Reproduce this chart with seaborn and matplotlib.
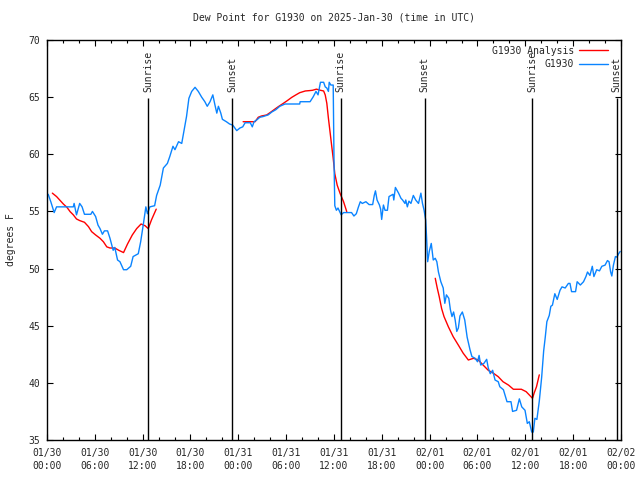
import pandas as pd
import numpy as np
import matplotlib
matplotlib.use("Agg")
import matplotlib.pyplot as plt
import matplotlib.dates as mdates
import seaborn as sns

START = pd.Timestamp("2025-01-30 00:00")

# observed dew point (hours since start, deg F)
obs_hours = [
    0.15, 0.5, 0.9, 1.2, 2.0, 3.3, 3.4, 3.7, 4.1, 4.4, 4.7, 5.5, 5.7, 6.1, 6.4,
    6.65, 6.95, 7.2, 7.6, 7.9, 8.3, 8.5, 8.85, 9.15, 9.6, 10.0, 10.5, 10.8,
    11.45, 11.75, 12.1, 12.4, 12.6, 12.9, 13.5, 13.75, 14.2, 14.6, 15.1, 15.4,
    15.8, 16.05, 16.5, 16.9, 17.2, 17.5, 17.8, 18.15, 18.57, 18.98, 19.4, 19.8,
    20.1, 20.45, 20.8, 21.07, 21.3, 21.5, 21.8, 22.0, 22.5, 22.9, 23.3, 23.8,
    24.2, 24.55, 24.85, 25.5, 25.75, 25.97, 26.3, 26.7, 27.1, 27.75, 28.2, 28.7,
    29.2, 29.85, 30.5, 31.7, 31.75, 33.0, 33.4, 33.74, 34.0, 34.3, 34.7, 34.9,
    35.1, 35.3, 35.4, 35.6, 35.9, 36.0, 36.1, 36.3, 36.5, 36.9, 37.2, 37.8,
    38.2, 38.5, 38.8, 39.05, 39.3, 39.55, 40.0, 40.4, 40.85, 41.05, 41.2, 41.4,
    41.7, 41.85, 41.98, 42.2, 42.4, 42.7, 42.9, 43.4, 43.5, 43.7, 44.1, 44.4,
    44.6, 44.9, 45.0, 45.2, 45.4, 45.65, 45.95, 46.25, 46.6, 46.9, 47.1, 47.3,
    47.5, 47.6, 47.75, 47.95, 48.2, 48.45, 48.7, 48.9, 49.1, 49.4, 49.7, 49.9,
    50.1, 50.4, 50.6, 50.8, 51.0, 51.2, 51.4, 51.6, 51.8, 52.1, 52.4, 52.7,
    53.06, 53.3, 53.7, 54.0, 54.2, 54.4, 54.8, 55.15, 55.35, 55.6, 55.9, 56.2,
    56.6, 56.8, 57.25, 57.7, 58.2, 58.4, 58.9, 59.25, 59.55, 59.96, 60.25, 60.5,
    60.8, 61.0, 61.2, 61.45, 61.75, 62.05, 62.3, 62.5, 62.7, 63.0, 63.2, 63.4,
    63.7, 64.0, 64.35, 64.6, 65.0, 65.4, 65.6, 65.8, 66.3, 66.5, 66.9, 67.3,
    67.6, 67.8, 68.1, 68.4, 68.6, 68.95, 69.3, 69.6, 70.0, 70.3, 70.5, 70.7,
    70.85, 71.05, 71.3, 71.5, 71.7, 71.9,
]
obs_dewpt = [
    56.5, 55.8, 54.9, 55.4, 55.4, 55.4, 55.7, 54.7, 55.7, 55.4, 54.75, 54.75, 55.0, 54.55, 53.8,
    53.5, 53.0, 53.3, 53.3, 52.65, 51.6, 51.85, 50.75, 50.6, 49.9, 49.9, 50.2, 51.05,
    51.3, 52.35, 53.95, 55.4, 54.8, 55.4, 55.5, 56.4, 57.3, 58.8, 59.2, 59.8,
    60.7, 60.4, 61.1, 60.95, 62.1, 63.3, 64.9, 65.5, 65.86, 65.5, 65.0, 64.6,
    64.2, 64.6, 65.2, 64.3, 63.6, 64.2, 63.6, 63.06, 62.85, 62.65, 62.55, 62.07,
    62.3, 62.4, 62.76, 62.76, 62.4, 62.85, 63.0, 63.24, 63.3, 63.45, 63.7, 63.9,
    64.2, 64.4, 64.4, 64.4, 64.6, 64.6, 65.04, 65.5, 65.2, 66.3, 66.3, 65.9,
    65.8, 65.5, 66.3, 66.06, 66.06, 59.5, 55.5, 55.1, 55.3, 54.7, 54.9, 54.9,
    54.9, 54.6, 54.8, 55.36, 55.85, 55.7, 55.85, 55.6, 55.6, 56.4, 56.8, 56.0,
    55.56, 55.2, 54.3, 55.56, 55.1, 55.1, 56.3, 56.5, 56.0, 57.1, 56.6, 56.15,
    56.0, 55.7, 56.0, 55.4, 55.9, 55.7, 56.4, 56.0, 55.7, 56.6, 55.7, 55.1,
    54.25, 52.9, 50.6, 51.5, 52.2, 50.75, 50.9, 50.6, 49.7, 48.85, 48.3, 46.96,
    47.7, 47.4, 46.4, 45.8, 46.2, 45.5, 44.5, 44.8, 45.85, 46.2, 45.5, 44.0,
    42.9, 42.3, 42.15, 41.85, 42.4, 41.56, 41.7, 42.06, 41.3, 40.8, 41.1, 40.25,
    40.1, 39.66, 39.4, 38.35, 38.35, 37.5, 37.6, 38.6, 37.9, 37.6, 36.45, 36.6,
    35.7, 35.7, 36.9, 36.8, 38.4, 40.5, 42.8, 44.0, 45.35, 45.9, 46.7, 46.8,
    47.8, 47.3, 48.1, 48.4, 48.3, 48.7, 48.7, 47.98, 47.98, 48.85, 48.56, 48.85,
    49.3, 49.7, 49.4, 50.2, 49.3, 49.9, 49.8, 50.2, 50.3, 50.7, 50.6, 49.7,
    49.35, 50.3, 51.05, 51.0, 51.3, 51.5,
]

# analysis runs (three separate segments)
ana1_hours = [0.67, 1.2, 2.05, 2.5, 2.9, 3.3, 3.7, 4.1, 4.7, 5.2, 5.6, 6.1, 6.65,
              7.07, 7.5, 7.9, 8.5, 9.0, 9.6, 10.1, 10.7, 11.25, 11.8, 12.3, 12.7,
              13.1, 13.7]
ana1_dewpt = [56.6, 56.3, 55.65, 55.36, 54.98, 54.7, 54.34, 54.2, 54.05, 53.67,
              53.23, 52.94, 52.65, 52.35, 51.9, 51.8, 51.8, 51.6, 51.4, 52.15,
              52.94, 53.5, 53.9, 53.75, 53.5, 54.25, 55.2]
ana2_hours = [24.6, 26.1, 26.5, 26.9, 27.55, 27.97, 28.6, 29.0, 29.65, 30.15,
              30.7, 31.2, 31.7, 32.4, 32.9, 33.3, 33.8, 34.3, 34.7, 34.9, 35.1,
              35.3, 35.5, 35.7, 35.9, 36.1, 36.4, 36.75, 37.2, 37.6]
ana2_dewpt = [62.85, 62.85, 63.24, 63.35, 63.44, 63.64, 63.96, 64.16, 64.46,
              64.7, 64.98, 65.19, 65.39, 65.54, 65.57, 65.6, 65.7, 65.6, 65.54,
              65.19, 64.46, 63.15, 61.98, 60.8, 59.65, 58.3, 57.3, 56.6, 55.85,
              54.98]
ana3_hours = [48.7, 48.95, 49.2, 49.5, 49.8, 50.35, 50.95, 51.6, 52.2, 52.85,
              53.5, 54.1, 54.7, 55.35, 56.0, 56.6, 57.2, 57.9, 58.5, 58.9, 59.5,
              60.1, 60.5, 60.9, 61.1, 61.4, 61.75]
ana3_dewpt = [49.15, 48.3, 47.54, 46.5, 45.8, 44.9, 44.04, 43.3, 42.6, 42.0,
              42.15, 42.0, 41.56, 41.1, 40.84, 40.54, 40.1, 39.8, 39.44, 39.44,
              39.44, 39.23, 38.94, 38.65, 39.1, 39.66, 40.7]

sun_hours = [12.71, 23.25, 36.84, 47.37, 60.88, 71.46]
sun_labels = ["Sunrise", "Sunset", "Sunrise", "Sunset", "Sunrise", "Sunset"]

RED = "#ff0000"
BLUE = "#0a84ff"


def to_time(hours):
    return START + pd.to_timedelta(np.asarray(hours), unit="h")


sns.set_style("ticks")
plt.rcParams["font.family"] = ["DejaVu Sans Mono", "DejaVu Sans"]
plt.rcParams["font.size"] = 7

fig = plt.figure(figsize=(6.4, 4.8), dpi=100)
ax = fig.add_axes([47 / 640, 40 / 480, 574 / 640, 400 / 480])

obs = pd.DataFrame({"time": to_time(obs_hours), "dewpt": obs_dewpt})
for i, (h, v) in enumerate([(ana1_hours, ana1_dewpt), (ana2_hours, ana2_dewpt),
                            (ana3_hours, ana3_dewpt)]):
    seg = pd.DataFrame({"time": to_time(h), "dewpt": v})
    sns.lineplot(data=seg, x="time", y="dewpt", ax=ax, color=RED, lw=1.0,
                 label="G1930 Analysis" if i == 0 else None)
sns.lineplot(data=obs, x="time", y="dewpt", ax=ax, color=BLUE, lw=1.0,
             label="G1930")

# sunrise / sunset markers
sun_times = to_time(sun_hours)
ax.vlines(sun_times, 35, 64.9, color="black", lw=1.0)
for t, lab in zip(sun_times, sun_labels):
    ax.text(t, 65.45, lab, rotation=90, ha="center", va="bottom", fontsize=7)

ax.set_xlim(START, START + pd.Timedelta(hours=72))
ax.set_ylim(35, 70)
ax.set_yticks(range(35, 71, 5))

ax.xaxis.set_major_locator(mdates.HourLocator(byhour=range(0, 24, 6)))
ax.xaxis.set_minor_locator(mdates.HourLocator(byhour=range(0, 24, 2)))
ax.xaxis.set_major_formatter(mdates.DateFormatter("%m/%d\n%H:%M"))
for lab in ax.get_xticklabels():
    lab.set_linespacing(1.35)

ax.tick_params(which="both", direction="in", top=True, right=True,
               color="black", width=0.8, labelsize=7)
ax.tick_params(which="major", length=4.5)
ax.tick_params(which="minor", length=2.5)
ax.tick_params(axis="x", pad=6)
ax.tick_params(axis="y", pad=5)
for s in ax.spines.values():
    s.set_visible(True)
    s.set_color("black")
    s.set_linewidth(1.0)

ax.set_xlabel("")
ax.set_ylabel("degrees F", fontsize=7, labelpad=9)
ax.set_title("Dew Point for G1930 on 2025-Jan-30 (time in UTC)", fontsize=7, pad=14)

leg = ax.legend(loc="upper right", bbox_to_anchor=(1 - 7 / 574, 1),
                frameon=False, markerfirst=False,
                fontsize=7, handlelength=3.0, handletextpad=0.5,
                labelspacing=0.35, borderaxespad=0.2)

fig.savefig("out.png", dpi=100)
